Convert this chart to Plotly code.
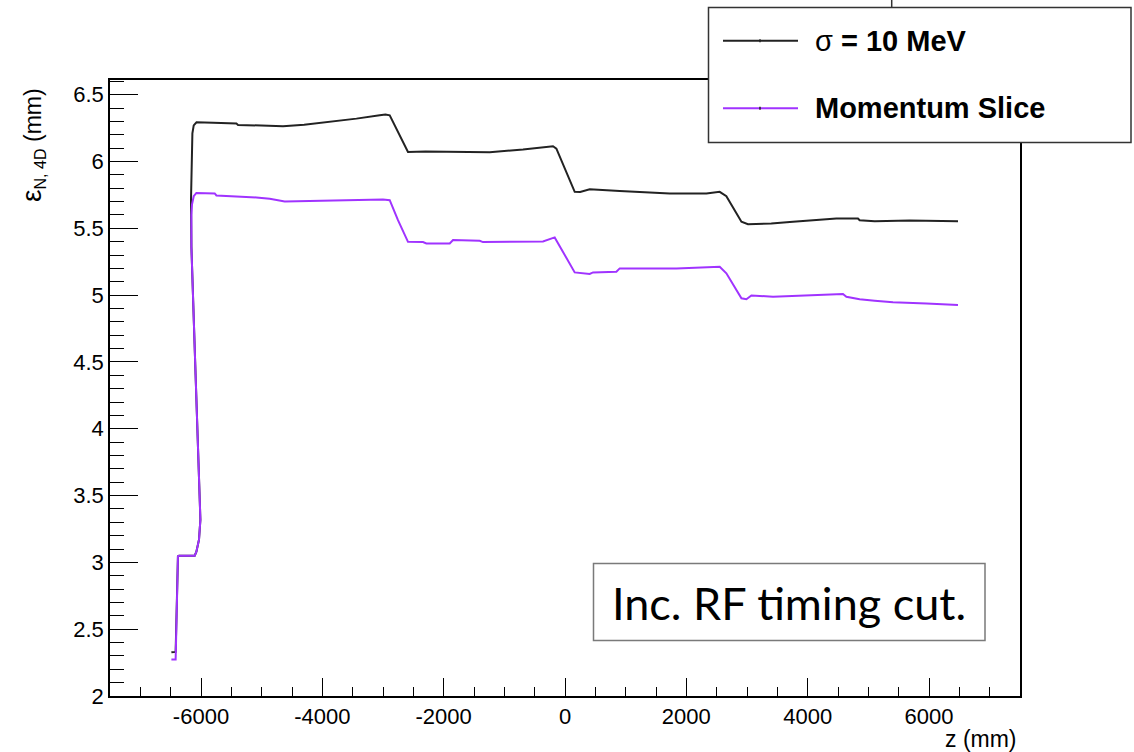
import plotly.graph_objects as go

# ---------------- data ----------------
z_sigma = [-6488, -6434, -6418, -6380, -6362, -6104, -6076, -6033, -6010, -6089,
           -6158, -6165, -6158, -6142, -6120, -6074, -5800, -5416, -5390, -5000,
           -4648, -4300, -3824, -3438, -3054, -2960, -2889, -2753, -2588, -2300,
           -1790, -1241, -692, -198, -142, 160, 250, 407, 902, 1726, 2331, 2550,
           2660, 2908, 3016, 3400, 3758, 4473, 4829, 4857, 5105, 5682, 6478]
eps_sigma = [2.327, 2.327, 2.33, 3.045, 3.05, 3.05, 3.08, 3.17, 3.32, 4.40,
             5.36, 5.71, 5.96, 6.21, 6.27, 6.294, 6.29, 6.284, 6.274, 6.27,
             6.264, 6.275, 6.299, 6.321, 6.346, 6.352, 6.346, 6.221, 6.072, 6.075,
             6.072, 6.07, 6.09, 6.114, 6.097, 5.773, 5.772, 5.793, 5.78, 5.761, 5.761, 5.773,
             5.741, 5.549, 5.531, 5.536, 5.549, 5.574, 5.574, 5.561, 5.552, 5.559, 5.552]

z_slice = [-6488, -6418, -6380, -6362, -6104, -6076, -6033, -6010, -6089, -6158,
           -6158, -6148, -6120, -6076, -5774, -5746, -5087, -4867, -4620, -3989,
           -3438, -3000, -2889, -2753, -2588, -2341, -2285, -1900, -1846, -1406,
           -1352, -692, -363, -170, 160, 407, 462, 847, 902, 1836, 2550, 2660,
           2908, 2990, 3072, 3428, 4582, 4638, 4857, 5105, 5406, 5957, 6478]
eps_slice = [2.273, 2.273, 3.045, 3.05, 3.05, 3.08, 3.17, 3.32, 4.40, 5.36,
             5.60, 5.68, 5.74, 5.765, 5.761, 5.746, 5.731, 5.721, 5.701, 5.706,
             5.711, 5.716, 5.711, 5.561, 5.399, 5.397, 5.387, 5.387, 5.412, 5.407,
             5.397, 5.397, 5.402, 5.432, 5.17, 5.158, 5.17, 5.175, 5.20, 5.20, 5.212, 5.163,
             4.976, 4.969, 4.998, 4.988, 5.008, 4.988, 4.969, 4.958, 4.946, 4.938, 4.926]

series_names = ["σ <b>= 10 MeV</b>", "<b>Momentum Slice</b>"]
series_colors = ["#222222", "#a033ff"]

x_tick_vals = [-6000, -4000, -2000, 0, 2000, 4000, 6000]
x_tick_text = ["-6000", "-4000", "-2000", "0", "2000", "4000", "6000"]
y_tick_vals = [2, 2.5, 3, 3.5, 4, 4.5, 5, 5.5, 6, 6.5]
y_tick_text = ["2", "2.5", "3", "3.5", "4", "4.5", "5", "5.5", "6", "6.5"]

x_range = [-7500, 7500]
y_range = [2, 6.61]
x_title = "z (mm)"
y_title = "<span style='font-size:28px'>ε</span><sub>N, 4D</sub> (mm)"
note_text = "Inc. RF timing cut."

# ---------------- figure ----------------
W, H = 1134, 752
L, R, T, B = 110, 114, 80, 56
PW, PH = W - L - R, H - T - B


def px(xp):
    return (xp - L) / PW


def py(yp):
    return (H - B - yp) / PH


fig = go.Figure()
fig.add_trace(go.Scatter(x=z_sigma, y=eps_sigma, mode="lines", name=series_names[0],
                         line=dict(color=series_colors[0], width=2), showlegend=False))
fig.add_trace(go.Scatter(x=z_slice, y=eps_slice, mode="lines", name=series_names[1],
                         line=dict(color=series_colors[1], width=2), showlegend=False))

tick_font = dict(family="Liberation Sans, Arial, sans-serif", size=22, color="black")

fig.update_xaxes(range=x_range, showgrid=False, zeroline=False,
                 showline=True, linecolor="black", linewidth=1.5, mirror=True,
                 ticks="inside", ticklen=18, tickwidth=1, tickcolor="black",
                 tickmode="array", tickvals=x_tick_vals, ticktext=x_tick_text,
                 tickfont=tick_font,
                 minor=dict(ticks="inside", ticklen=9, dtick=500, tick0=0,
                            tickcolor="black", tickwidth=1, showgrid=False))
fig.update_yaxes(range=y_range, showgrid=False, zeroline=False,
                 showline=True, linecolor="black", linewidth=1.5, mirror=True,
                 ticks="inside", ticklen=28, tickwidth=1, tickcolor="black",
                 tickmode="array", tickvals=y_tick_vals, ticktext=y_tick_text,
                 tickfont=tick_font,
                 minor=dict(ticks="inside", ticklen=14, dtick=0.1, tick0=2,
                            tickcolor="black", tickwidth=1, showgrid=False))

shapes = []
annotations = []

# legend box (drawn manually, outside the frame like the reference)
shapes.append(dict(type="rect", xref="paper", yref="paper", layer="above",
                   x0=px(708.5), x1=px(1131), y0=py(142.5), y1=py(7.5),
                   fillcolor="white", line=dict(color="#333333", width=1.5)))
row_y = [40.7, 108.3]
for i in range(2):
    shapes.append(dict(type="line", xref="paper", yref="paper", layer="above",
                       x0=px(723), x1=px(798), y0=py(row_y[i]), y1=py(row_y[i]),
                       line=dict(color=series_colors[i], width=2)))
    shapes.append(dict(type="line", xref="paper", yref="paper", layer="above",
                       x0=px(760), x1=px(760), y0=py(row_y[i] - 1.5), y1=py(row_y[i] + 1.5),
                       line=dict(color="#222222", width=1.5)))
    annotations.append(dict(xref="paper", yref="paper", x=px(813), y=py(row_y[i]),
                            xanchor="left", yanchor="middle", showarrow=False,
                            text=series_names[i],
                            font=dict(family="Liberation Sans, Arial, sans-serif",
                                      size=29, color="black")))

# tiny cut-off mark at the very top (partial title in the original)
shapes.append(dict(type="line", xref="paper", yref="paper", layer="above",
                   x0=px(891.7), x1=px(891.7), y0=py(0), y1=py(7),
                   line=dict(color="#333333", width=1.5)))

# note box
shapes.append(dict(type="rect", xref="paper", yref="paper", layer="above",
                   x0=px(593.5), x1=px(985), y0=py(640.5), y1=py(563.5),
                   fillcolor="white", line=dict(color="#7a7a7a", width=1.5)))
annotations.append(dict(xref="paper", yref="paper", x=px(789), y=py(603),
                        xanchor="center", yanchor="middle", showarrow=False,
                        text=note_text,
                        font=dict(family="Lato, Carlito, sans-serif", size=45, color="black")))

# axis titles
annotations.append(dict(xref="paper", yref="paper", x=px(1019), y=py(739),
                        xanchor="right", yanchor="middle", showarrow=False, text=x_title,
                        font=dict(family="Liberation Sans, Arial, sans-serif", size=23, color="black")))
annotations.append(dict(xref="paper", yref="paper", x=px(32), y=py(86),
                        xanchor="center", yanchor="top", showarrow=False, textangle=-90,
                        text=y_title,
                        font=dict(family="Liberation Sans, Arial, sans-serif", size=23, color="black")))

fig.update_layout(width=W, height=H, autosize=False,
                  margin=dict(l=L, r=R, t=T, b=B, pad=0),
                  paper_bgcolor="white", plot_bgcolor="white",
                  shapes=shapes, annotations=annotations, showlegend=False)

fig.write_html("out.html", config={"displayModeBar": False},
               post_script="document.body.style.margin='0';document.body.style.overflow='hidden';")
